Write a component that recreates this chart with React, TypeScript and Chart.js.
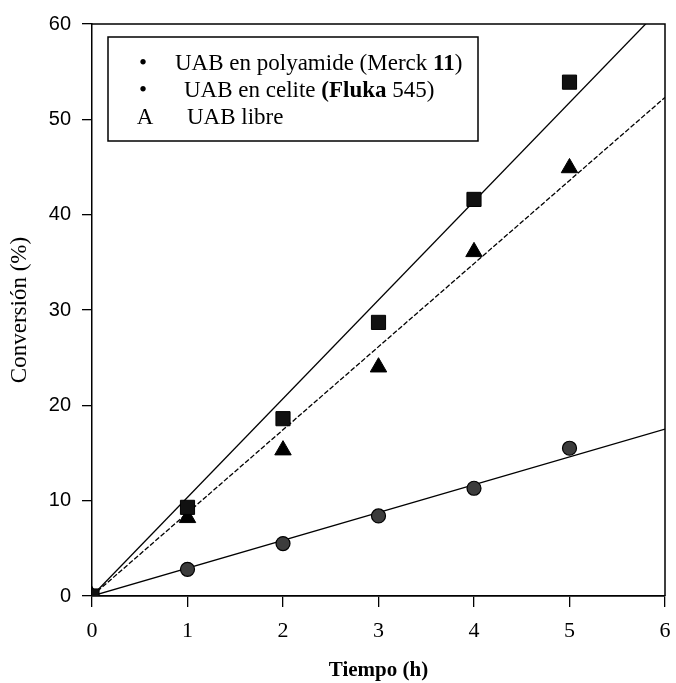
import React, { useEffect, useRef } from "react";
import { Chart, registerables } from "chart.js";

Chart.register(...registerables);

// Measured conversion (%) against reaction time (h)
const hours = [0, 1, 2, 3, 4, 5];
const polyamide = [0, 9.3, 18.6, 28.7, 41.6, 53.9];
const celite = [0, 8.2, 15.3, 24.0, 36.1, 44.9];
const libre = [0, 2.8, 5.5, 8.4, 11.3, 15.5];

// Straight fits through the origin, evaluated at the ends of the time axis
const fitHours = [0, 6];
const fitPolyamide = [0, 62.1];
const fitCelite = [0, 52.3];
const fitLibre = [0, 17.5];

const xTickValues = [0, 1, 2, 3, 4, 5, 6];
const yTickValues = [0, 10, 20, 30, 40, 50, 60];

const xTitle = "Tiempo (h)";
const yTitle = "Conversión (%)";

// Legend rows: marker glyph and text runs (bold flag per run)
const legendMarkers = ["•", "•", "A"];
const legendRuns: [string, boolean][][] = [
  [["UAB en polyamide (Merck ", false], ["11", true], [")", false]],
  [["UAB en celite ", false], ["(Fluka", true], [" 545)", false]],
  [["UAB libre", false]],
];

const SERIF = "'Liberation Serif', 'Times New Roman', serif";
const SANS = "'Liberation Sans', Arial, sans-serif";

const toPoints = (xs: number[], ys: number[]) => xs.map((x, i) => ({ x, y: ys[i] }));

const framePlugin = {
  id: "frame",
  beforeDatasetsDraw(chart: any) {
    const { ctx, chartArea } = chart;
    ctx.save();
    ctx.strokeStyle = "#000";
    ctx.lineWidth = 1.5;
    ctx.beginPath();
    ctx.moveTo(chartArea.left, chartArea.top);
    ctx.lineTo(chartArea.right, chartArea.top);
    ctx.lineTo(chartArea.right, chartArea.bottom);
    ctx.stroke();
    ctx.restore();
  },
};

const legendPlugin = {
  id: "boxLegend",
  afterDraw(chart: any) {
    const { ctx } = chart;
    const box = { left: 108, top: 37, right: 478, bottom: 141 };
    const baselines = [70, 97, 124];
    const markerX = [143, 143, 145];
    const textX = [175, 184, 187];
    ctx.save();
    ctx.fillStyle = "#fff";
    ctx.fillRect(box.left, box.top, box.right - box.left, box.bottom - box.top);
    ctx.strokeStyle = "#000";
    ctx.lineWidth = 1.5;
    ctx.strokeRect(box.left, box.top, box.right - box.left, box.bottom - box.top);
    ctx.fillStyle = "#000";
    ctx.textBaseline = "alphabetic";
    legendMarkers.forEach((m, i) => {
      ctx.font = `23px ${SERIF}`;
      ctx.textAlign = "center";
      ctx.fillText(m, markerX[i], baselines[i]);
      ctx.textAlign = "left";
      let x = textX[i];
      legendRuns[i].forEach(([txt, bold]) => {
        ctx.font = `${bold ? "bold " : ""}23px ${SERIF}`;
        ctx.fillText(txt, x, baselines[i]);
        x += ctx.measureText(txt).width;
      });
    });
    ctx.restore();
  },
};

export default function App() {
  const canvasRef = useRef<HTMLCanvasElement | null>(null);

  useEffect(() => {
    document.body.style.margin = "0";
    const canvas = canvasRef.current;
    if (!canvas) return;

    const lineBase = {
      type: "line" as const,
      showLine: true,
      pointRadius: 0,
      pointHoverRadius: 0,
      borderColor: "#000",
      borderWidth: 1.3,
      fill: false,
      order: 10,
    };

    const chart = new Chart(canvas, {
      type: "scatter",
      data: {
        datasets: [
          { ...lineBase, label: "fit polyamide", data: toPoints(fitHours, fitPolyamide) },
          { ...lineBase, label: "fit celite", data: toPoints(fitHours, fitCelite), borderDash: [5, 2] },
          { ...lineBase, label: "fit libre", data: toPoints(fitHours, fitLibre) },
          {
            label: "UAB en polyamide (Merck 11)",
            data: toPoints(hours, polyamide),
            pointStyle: "rect",
            pointRadius: 10,
            backgroundColor: "#111",
            borderColor: "#000",
            borderWidth: 1,
            order: 1,
          },
          {
            label: "UAB en celite (Fluka 545)",
            data: toPoints(hours, celite),
            pointStyle: "triangle",
            pointRadius: 9.5,
            backgroundColor: "#000",
            borderColor: "#000",
            borderWidth: 1,
            order: 2,
          },
          {
            label: "UAB libre",
            data: toPoints(hours, libre),
            pointStyle: "circle",
            pointRadius: 7,
            backgroundColor: "#3c3c3c",
            borderColor: "#000",
            borderWidth: 1.2,
            order: 3,
          },
        ],
      },
      options: {
        responsive: false,
        animation: false,
        devicePixelRatio: 1,
        layout: { padding: { top: 24, right: 3, left: 0, bottom: 0 } },
        plugins: {
          legend: { display: false },
          tooltip: { enabled: false },
        },
        scales: {
          x: {
            type: "linear",
            min: 0,
            max: 6,
            afterBuildTicks: (scale: any) => {
              scale.ticks = xTickValues.map((v) => ({ value: v }));
            },
            afterFit: (scale: any) => {
              scale.height = 87;
              scale.paddingLeft = 0;
              scale.paddingRight = 0;
            },
            ticks: {
              color: "#000",
              font: { family: SERIF, size: 22 },
              padding: 11,
              maxRotation: 0,
            },
            grid: {
              display: true,
              drawOnChartArea: false,
              drawTicks: true,
              tickLength: 11,
              color: "#000",
              lineWidth: 1.3,
            },
            border: { display: true, color: "#000", width: 1.8 },
            title: {
              display: true,
              text: xTitle,
              color: "#000",
              font: { family: SERIF, size: 21, weight: "bold" },
              padding: { top: 0, bottom: 0 },
            },
          },
          y: {
            type: "linear",
            min: 0,
            max: 60,
            afterBuildTicks: (scale: any) => {
              scale.ticks = yTickValues.map((v) => ({ value: v }));
            },
            afterFit: (scale: any) => {
              scale.width = 92;
              scale.paddingTop = 0;
              scale.paddingBottom = 0;
            },
            ticks: {
              color: "#000",
              font: { family: SANS, size: 20 },
              padding: 11,
            },
            grid: {
              display: true,
              drawOnChartArea: false,
              drawTicks: true,
              tickLength: 10,
              color: "#000",
              lineWidth: 1.3,
            },
            border: { display: true, color: "#000", width: 1.5 },
            title: {
              display: true,
              text: yTitle,
              color: "#000",
              font: { family: SERIF, size: 23 },
              padding: { top: 6, bottom: 0 },
            },
          },
        },
      },
      plugins: [framePlugin, legendPlugin],
    } as any);

    return () => chart.destroy();
  }, []);

  return (
    <div style={{ width: 676, height: 683, background: "#fff" }}>
      <canvas ref={canvasRef} width={676} height={683} style={{ width: 676, height: 683, display: "block" }} />
    </div>
  );
}
